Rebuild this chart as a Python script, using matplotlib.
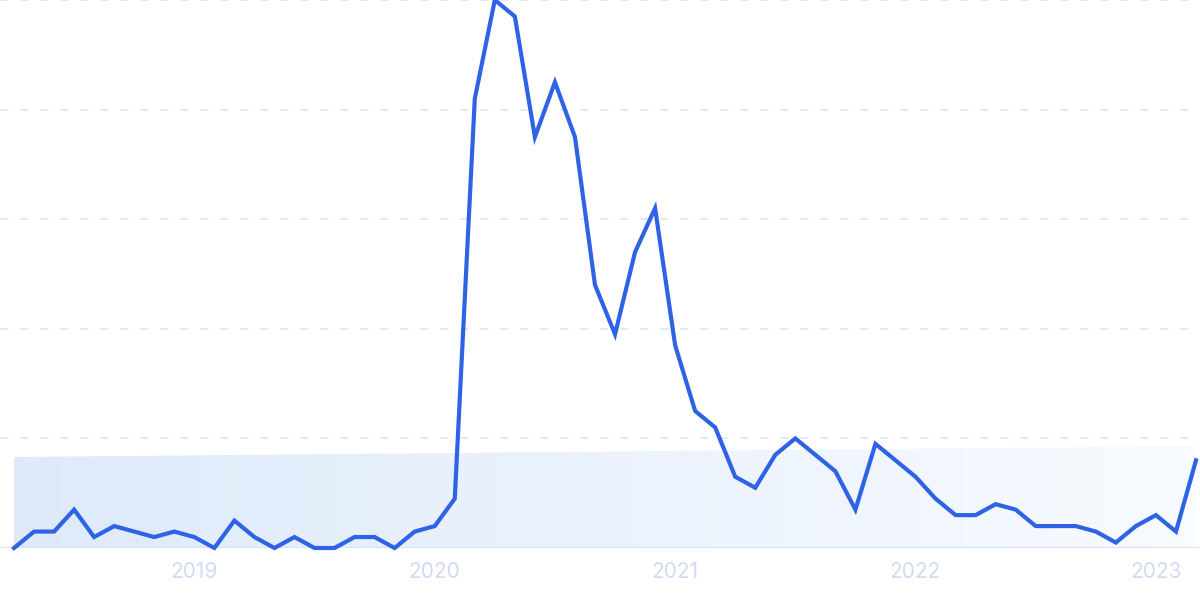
import numpy as np
import matplotlib
matplotlib.use("Agg")
import matplotlib.pyplot as plt
from matplotlib.colors import LinearSegmentedColormap

# monthly interest, Apr 2018 .. Mar 2023
values = [0, 3, 3, 7, 2, 4, 3, 2, 3, 2, 0, 5, 2, 0, 2, 0, 0, 2, 2, 0, 3, 4, 9,
          82, 100, 97, 75, 85, 75, 48, 39, 54, 62, 37, 25, 22, 13, 11, 17, 20,
          17, 14, 7, 19, 16, 13, 9, 6, 6, 8, 7, 4, 4, 4, 3, 1, 4, 6, 3, 16]
trend_ends = [16.6, 18.6]
tick_months = [9, 21, 33, 45, 57]
tick_labels = ["2019", "2020", "2021", "2022", "2023"]
grid_levels = [20, 40, 60, 80, 100]

LINE = "#2f63e5"
GRID = "#dbe5f9"
TEXT = "#d0daf5"

x = np.arange(len(values))
y = np.array(values, dtype=float)

fig = plt.figure(figsize=(12, 6), dpi=100)
ax = fig.add_axes([0, 52 / 600, 1, 548 / 600])
ax.set_xlim(-0.7, len(values) - 1 + 0.2)
ax.set_ylim(0, 100)

# trend band with horizontal gradient
trend = np.linspace(trend_ends[0], trend_ends[1], len(values))
poly = ax.fill_between(x, 0, trend, color="none", lw=0)
cmap = LinearSegmentedColormap.from_list("band", ["#deeafa", "#f8fbff"])
grad = np.linspace(0, 1, 256).reshape(1, -1)
img = ax.imshow(grad, cmap=cmap, aspect="auto",
                extent=[x[0], x[-1], 0, trend.max()], zorder=1)
img.set_clip_path(poly.get_paths()[0], transform=ax.transData)

for g in grid_levels:
    ax.axhline(g, color=GRID, lw=1.2, linestyle=(0, (5, 7)), zorder=0,
               clip_on=False)
ax.axhline(0, color="#d5e3fb", lw=1.5, zorder=2)

ax.plot(x, y, color=LINE, lw=3.0, solid_joinstyle="miter", zorder=3,
        clip_on=False)

for spine in ax.spines.values():
    spine.set_visible(False)
ax.set_yticks([])
ax.set_xticks(tick_months)
ax.set_xticklabels(tick_labels, fontsize=15, color=TEXT, family="Inter")
ax.tick_params(axis="x", length=0, pad=10)

fig.savefig("out.png", dpi=100)
